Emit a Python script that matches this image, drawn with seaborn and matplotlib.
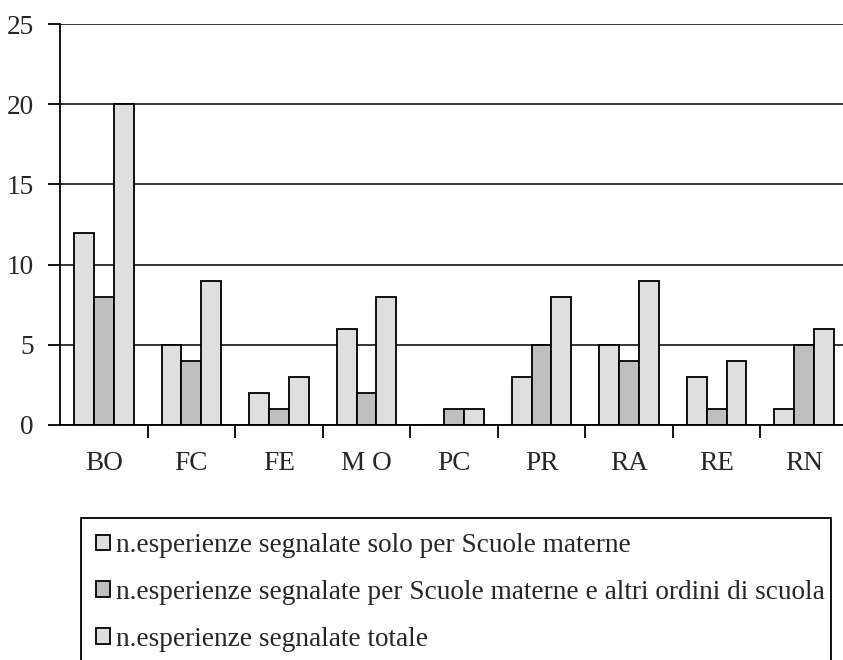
import pandas as pd
import matplotlib
matplotlib.use("Agg")
import matplotlib.pyplot as plt
import seaborn as sns

provinces = ['BO', 'FC', 'FE', 'M O', 'PC', 'PR', 'RA', 'RE', 'RN']
solo_materne = [12, 5, 2, 6, 0, 3, 5, 3, 1]
materne_altri = [8, 4, 1, 2, 1, 5, 4, 1, 5]
totale = [20, 9, 3, 8, 1, 8, 9, 4, 6]
series_names = [
    'n.esperienze segnalate solo per Scuole materne',
    'n.esperienze segnalate per Scuole materne e altri ordini di scuola',
    'n.esperienze segnalate totale',
]
colors = ['#DFDFDF', '#BFBFBF', '#DFDFDF']
y_ticks = [0, 5, 10, 15, 20, 25]


def build_frame() -> pd.DataFrame:
    rows = []
    for name, values in zip(series_names, [solo_materne, materne_altri, totale]):
        for prov, v in zip(provinces, values):
            rows.append({'provincia': prov, 'serie': name, 'valore': v})
    return pd.DataFrame(rows)


sns.set_style('white')
plt.rcParams['font.family'] = ['Liberation Serif', 'DejaVu Serif']
FS = 19.6

df = build_frame()

fig = plt.figure(figsize=(8.43, 6.6), dpi=100)
ax = fig.add_axes([60 / 843, 1 - 425 / 660, 788 / 843, 401 / 660])

sns.barplot(data=df, x='provincia', y='valore', hue='serie', order=provinces,
            hue_order=series_names, palette=colors, width=0.68,
            edgecolor='black', linewidth=1.3, saturation=1, ax=ax)

handles, labels = ax.get_legend_handles_labels()
ax.get_legend().remove()

ax.set_ylim(0, 25)
ax.set_xlim(-0.5, len(provinces) - 0.5)
ax.set_yticks(y_ticks)
ax.set_yticklabels([str(t) for t in y_ticks], fontsize=FS)
ax.yaxis.grid(True, color='black', linewidth=1.1)
ax.set_axisbelow(True)
ax.set_xlabel('')
ax.set_ylabel('')

# category labels on minor ticks, boundary ticks on major
ax.set_xticks([i + 0.5 for i in range(len(provinces) - 1)])
ax.set_xticklabels([])
ax.set_xticks(range(len(provinces)), minor=True)
ax.set_xticklabels(provinces, minor=True, fontsize=FS)
ax.tick_params(axis='x', which='major', direction='out', length=9, width=1.3,
               color='black', bottom=True)
ax.tick_params(axis='x', which='minor', length=0, pad=19)
ax.tick_params(axis='y', direction='out', length=9, width=1.3, color='black',
               left=True, pad=10)

for side in ['left', 'bottom']:
    ax.spines[side].set_color('black')
    ax.spines[side].set_linewidth(1.3)
ax.spines['top'].set_visible(False)
ax.spines['right'].set_visible(False)

leg = fig.legend(handles, labels, loc='upper left',
                 bbox_to_anchor=(81 / 843, 1 - 518 / 660, 750 / 843, 0.0),
                 mode='expand', fontsize=FS, frameon=True, fancybox=False,
                 edgecolor='black', framealpha=1, handlelength=0.5,
                 handleheight=0.5, handletextpad=0.25, labelspacing=0.8,
                 borderpad=0.55, borderaxespad=0)
leg.get_frame().set_linewidth(1.3)

fig.savefig('out.png', dpi=100)
